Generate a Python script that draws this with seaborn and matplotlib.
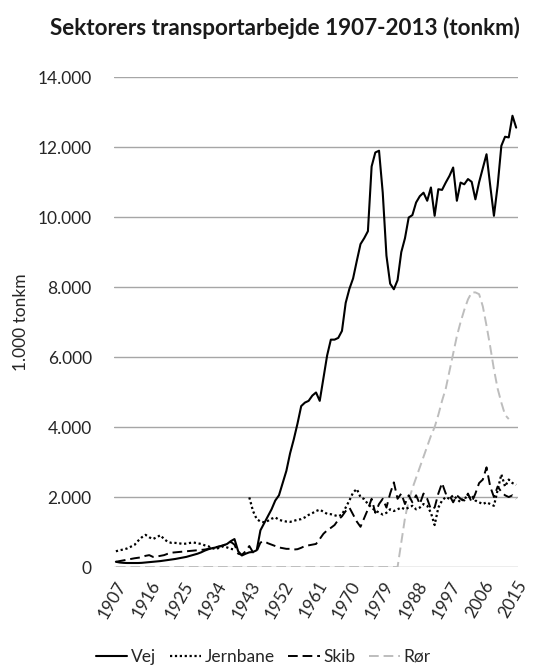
import numpy as np
import pandas as pd
import matplotlib
matplotlib.use("Agg")
import matplotlib.pyplot as plt
from matplotlib.ticker import FuncFormatter, FixedLocator
from matplotlib.lines import Line2D
import seaborn as sns

# ---- data (1.000 tonkm) ----
years = list(range(1907, 2016))

vej = [150, 130, 120, 115, 115, 115, 115, 120, 130, 140,
       150, 160, 170, 185, 200, 215, 230, 250, 270, 290,
       320, 350, 380, 420, 470, 510, 540, 560, 590, 620,
       660, 740, 800,                                   # 1907-1939
       450, 330, 380, 420, 430, 480,                    # 1940-1945
       1050, 1250, 1450, 1650, 1900, 2050, 2400, 2750, 3250, 3650,   # 1946-1955
       4100, 4600, 4700, 4750, 4900, 4990, 4750, 5400, 6050, 6500,   # 1956-1965
       6500, 6550, 6750, 7550, 7950, 8250, 8750, 9230, 9400, 9600,   # 1966-1975
       11450, 11850, 11900, 10700, 8900, 8100, 7940, 8200, 9000, 9400,  # 1976-1985
       9990, 10060, 10420, 10600, 10700, 10470, 10850, 10040, 10800, 10780,  # 1986-1995
       10990, 11180, 11420, 10470, 10990, 10940, 11090, 11010, 10510, 11000,  # 1996-2005
       11400, 11800, 10900, 10040, 10900, 12040, 12300, 12280, 12900, 12560]  # 2006-2015

jernbane = [450, 480, 500, 530, 580, 630, 750, 850, 920, 850,
            800, 850, 910, 800, 720, 690, 690, 680, 660, 670,
            690, 700, 680, 660, 620, 590, 540, 510, 560, 590,
            560, 520, 500,                                  # 1907-1939
            np.nan, np.nan, np.nan,                         # 1940-1942
            1990, 1600, 1370,                               # 1943-1945
            1300, 1280, 1320, 1380, 1420, 1350, 1320, 1300, 1290, 1320,  # 1946-1955
            1350, 1370, 1420, 1490, 1540, 1600, 1640, 1580, 1520, 1510,  # 1956-1965
            1480, 1450, 1500, 1700, 1900, 2130, 2230, 2000, 1940, 1800,  # 1966-1975
            1700, 1610, 1560, 1500, 1550, 1650, 1600, 1650, 1700, 1650,  # 1976-1985
            1700, 1750, 1650, 1700, 1800, 1750, 1550, 1200, 1700, 1900,  # 1986-1995
            2000, 1950, 2050, 1950, 1850, 2000, 1950, 2050, 1900, 1850,  # 1996-2005
            1800, 1850, 1800, 1750, 2200, 2650, 2300, 2500, 2400, 2350]  # 2006-2015

skib = [150, 170, 190, 210, 230, 250, 265, 280, 320, 340,
        290, 300, 320, 340, 380, 410, 420, 430, 440, 450,
        460, 470, 480, 490, 500, 520, 550, 570, 590, 620,
        660, 720, 640,                                      # 1907-1939
        380, 350, 450, 600, 420, 450,                       # 1940-1945
        700, 740, 680, 640, 600, 560, 540, 520, 520, 500,   # 1946-1955
        510, 550, 600, 620, 640, 660, 800, 950, 1050, 1120,  # 1956-1965
        1200, 1350, 1450, 1600, 1700, 1500, 1300, 1150, 1400, 1650,  # 1966-1975
        1950, 1550, 1800, 1950, 1700, 2100, 2420, 1950, 2100, 1800,  # 1976-1985
        2050, 1850, 2050, 1800, 2100, 1950, 1650, 1700, 2100, 2400,  # 1986-1995
        2100, 2050, 1850, 2050, 1950, 1900, 2100, 1850, 2100, 2400,  # 1996-2005
        2500, 2850, 2300, 2000, 2300, 2150, 2050, 2000, 2050, 1950]  # 2006-2015

roer = [0] * 77 + [                                          # 1907-1983
        700, 1400, 1900, 2250, 2550, 2850, 3150, 3450, 3750, 4000,  # 1984-1993
        4350, 4750, 5100, 5600, 6100, 6600, 7000, 7350, 7650, 7850,  # 1994-2003
        7850, 7800, 7450, 6900, 6300, 5650, 5100, 4700, 4350, 4230,  # 2004-2013
        np.nan, np.nan]                                      # 2014-2015

series_names = ["Vej", "Jernbane", "Skib", "Rør"]
series_values = [vej, jernbane, skib, roer]
tick_years = list(range(1907, 2016, 9))
y_ticks = list(range(0, 14001, 2000))

# ---- long-form table; a new segment starts after each gap ----
rows = []
for name, vals in zip(series_names, series_values):
    seg = 0
    prev_nan = False
    for yr, v in zip(years, vals):
        if v is None or (isinstance(v, float) and np.isnan(v)):
            prev_nan = True
            continue
        if prev_nan:
            seg += 1
            prev_nan = False
        rows.append({"year": yr, "value": v, "sektor": name, "segment": seg})
df = pd.DataFrame(rows)

styles = {
    "Vej": dict(color="black", linestyle="-", linewidth=1.5),
    "Jernbane": dict(color="black", linestyle=(0, (1.0, 1.2)), linewidth=1.6),
    "Skib": dict(color="black", linestyle=(0, (5, 2.5)), linewidth=1.4),
    "Rør": dict(color="#bdbdbd", linestyle=(0, (5, 2.5)), linewidth=1.4),
}

sns.set_theme(style="white")
plt.rcParams["font.family"] = ["Lato", "DejaVu Sans"]

fig = plt.figure(figsize=(5.43, 6.66), dpi=100)
ax = fig.add_axes([0.21, 0.1486, 0.744, 0.7354])

# gridlines behind data
for yv in y_ticks:
    ax.axhline(yv, color="#a6a6a6", linewidth=1.0, zorder=0)

draw_order = ["Rør", "Skib", "Jernbane", "Vej"]
for name in draw_order:
    sub = df[df["sektor"] == name]
    for seg, part in sub.groupby("segment"):
        sns.lineplot(data=part, x="year", y="value", ax=ax, estimator=None,
                     sort=True, legend=False, **styles[name])

ax.set_xlim(1906.5, 2015.5)
ax.set_ylim(0, 14000)
ax.yaxis.set_major_locator(FixedLocator(y_ticks))
ax.yaxis.set_major_formatter(FuncFormatter(lambda v, p: f"{int(v):,}".replace(",", ".")))
ax.xaxis.set_major_locator(FixedLocator(tick_years))
ax.set_xticklabels([str(t) for t in tick_years], rotation=60, ha="right",
                   rotation_mode="anchor", fontsize=12.5, color="#262626")
ax.tick_params(axis="y", labelsize=12.5, colors="#262626", length=0, pad=16)
ax.tick_params(axis="x", length=0, pad=8)
for s in ax.spines.values():
    s.set_visible(False)
ax.set_xlabel("")
ax.set_ylabel("1.000 tonkm", fontsize=12.5, color="#262626", labelpad=6)

fig.suptitle("Sektorers transportarbejde 1907-2013 (tonkm)", x=0.525, y=0.975,
             fontsize=16.2, fontweight="bold", color="#1a1a1a")

handles = [Line2D([], [], **styles[n]) for n in series_names]
fig.legend(handles, series_names, loc="center", bbox_to_anchor=(0.485, 0.014),
           ncol=4, frameon=False, fontsize=12.5, handlelength=1.8,
           handletextpad=0.2, columnspacing=0.8, borderaxespad=0)

fig.savefig("out.png", dpi=100)
